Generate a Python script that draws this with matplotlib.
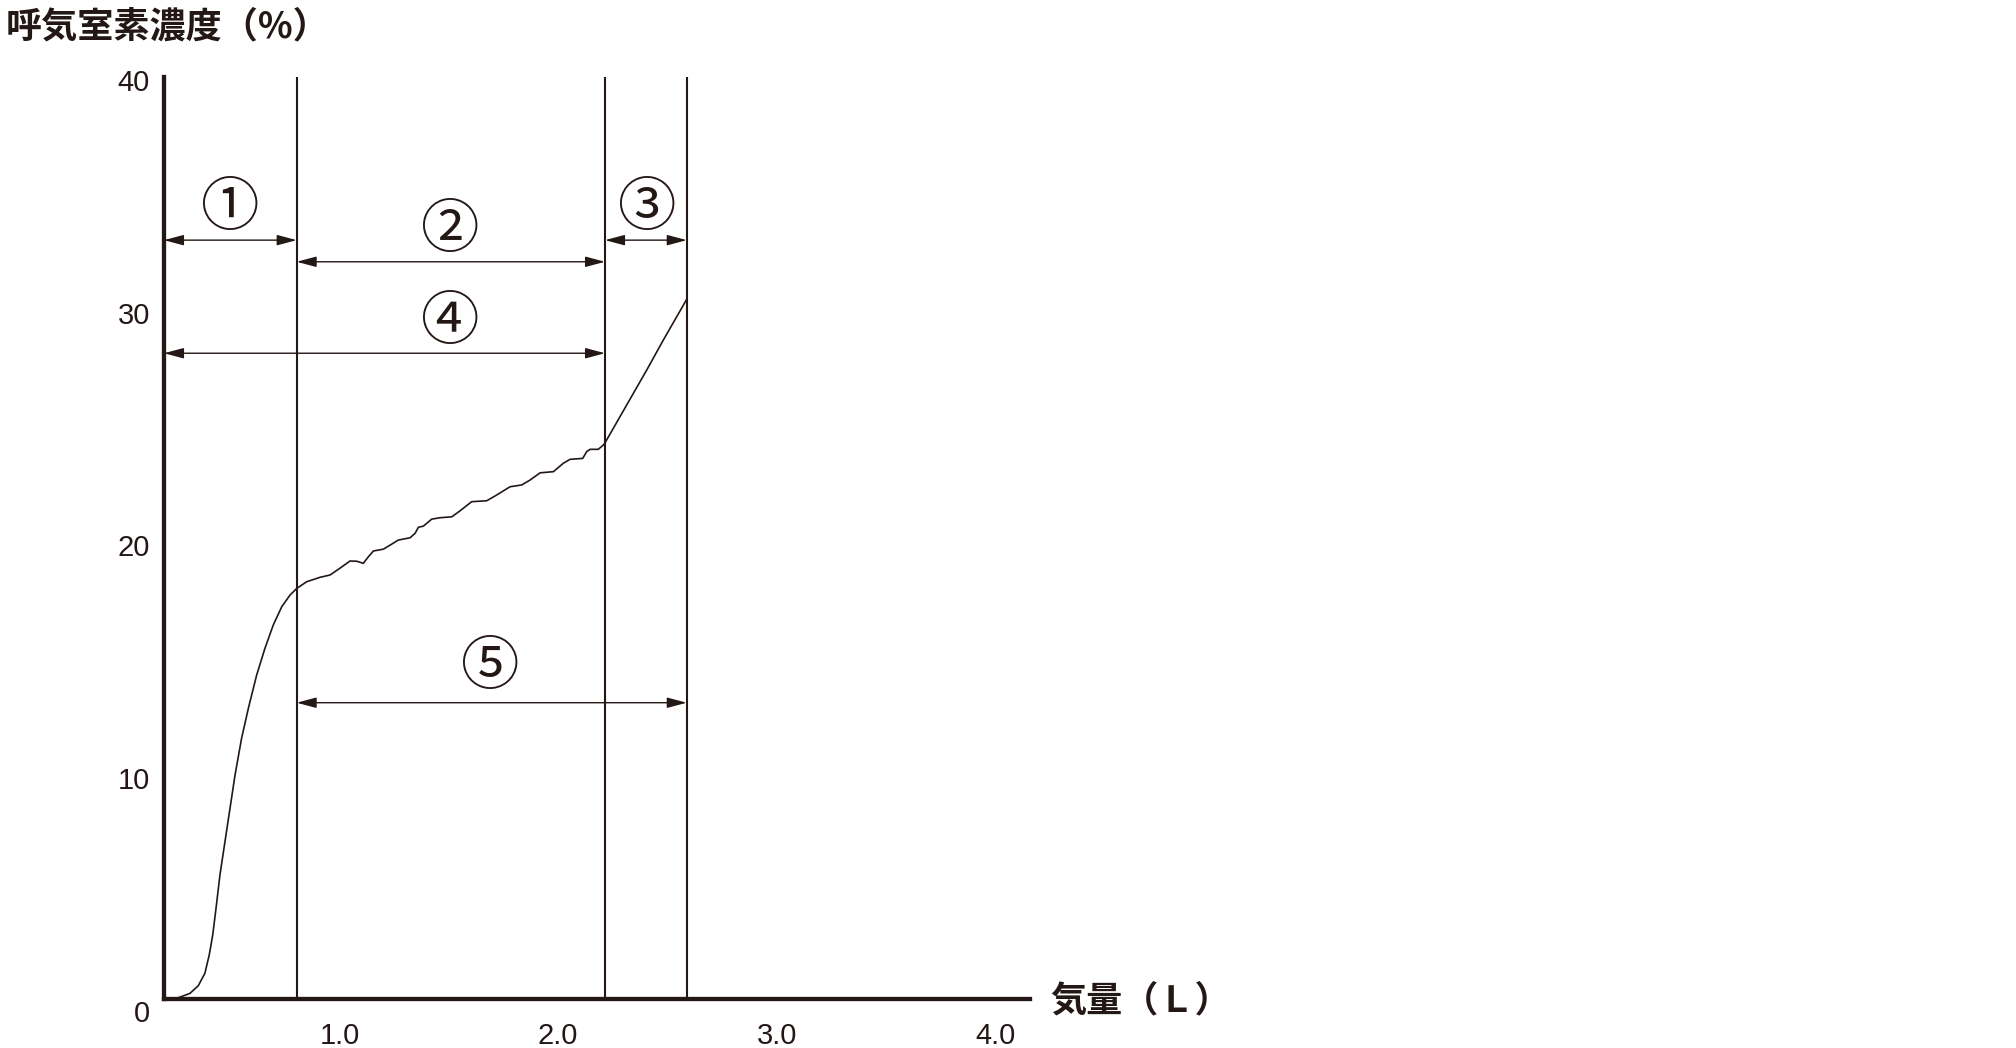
import matplotlib
matplotlib.use('Agg')
import matplotlib.pyplot as plt

plt.rcParams['font.family'] = ['Liberation Sans', 'DejaVu Sans']

# 図から読み取った値: 気量 (L) と 呼気窒素濃度 (%)
volume = [0.224, 0.262, 0.316, 0.354, 0.384, 0.404, 0.420, 0.435, 0.453, 0.476,
          0.499, 0.522, 0.552, 0.583, 0.621, 0.659, 0.697, 0.736, 0.774, 0.804,
          0.850, 0.911, 0.957, 1.002, 1.048, 1.079, 1.109, 1.132, 1.155, 1.201,
          1.231, 1.269, 1.323, 1.346, 1.361, 1.384, 1.422, 1.460, 1.514, 1.552,
          1.605, 1.674, 1.720, 1.780, 1.834, 1.872, 1.918, 1.979, 2.024, 2.055,
          2.113, 2.131, 2.147, 2.184, 2.207, 2.215, 2.406, 2.482, 2.589]
n2_conc = [0.49, 0.56, 0.75, 1.08, 1.61, 2.40, 3.26, 4.40, 5.84, 7.27,
           8.70, 10.13, 11.71, 13.00, 14.43, 15.58, 16.58, 17.37, 17.87, 18.15,
           18.44, 18.63, 18.73, 19.02, 19.33, 19.32, 19.23, 19.51, 19.76, 19.84,
           20.01, 20.23, 20.33, 20.52, 20.78, 20.83, 21.13, 21.19, 21.23, 21.49,
           21.88, 21.92, 22.17, 22.52, 22.60, 22.81, 23.12, 23.17, 23.53, 23.70,
           23.74, 24.03, 24.13, 24.13, 24.31, 24.41, 27.54, 28.83, 30.58]

# 区間の境界 (縦線)
boundaries = [0.804, 2.215, 2.589]

# 区間の矢印とラベル
arrow_left = [0.197, 0.804, 2.215, 0.197, 0.804]
arrow_right = [0.804, 2.215, 2.589, 2.215, 2.589]
arrow_y = [33.12, 32.19, 33.12, 28.26, 13.24]
label_x = [0.499, 1.506, 2.407, 1.506, 1.689]
label_y = [34.49, 33.55, 34.49, 29.59, 14.77]
label_text = ['①', '②', '③', '④', '⑤']

x_ticks = [1.0, 2.0, 3.0, 4.0]
y_ticks = [0, 10, 20, 30, 40]

ink = '#231815'
jp_font = ['Noto Sans CJK JP', 'DejaVu Sans']

x_min, x_max = 0.197, 4.160
y_top = 40.13
y_base = 0.49  # 横軸の位置

fig = plt.figure(figsize=(20.16, 10.48), dpi=100)
ax = fig.add_axes([0.08135, 0.0355, 0.4296, 0.8910])

ax.plot(volume, n2_conc, color=ink, lw=1.2, solid_joinstyle='round')
ax.vlines(boundaries, y_base, y_top, color=ink, lw=1.5)

for x0, x1, y in zip(arrow_left, arrow_right, arrow_y):
    ax.annotate('', xy=(x1, y), xytext=(x0, y),
                arrowprops=dict(arrowstyle='<|-|>,head_length=0.6,head_width=0.16',
                                mutation_scale=20, color=ink, lw=1.0,
                                shrinkA=0, shrinkB=0))

for x, y, t in zip(label_x, label_y, label_text):
    ax.text(x, y, t, ha='center', va='center', fontsize=42,
            family=jp_font, color=ink)

ax.set_xlim(x_min, x_max)
ax.set_ylim(0, y_top)
ax.set_xticks(x_ticks)
ax.set_xticklabels(['%.1f' % v for v in x_ticks])
ax.set_yticks(y_ticks)
ax.set_yticklabels([str(v) for v in y_ticks])
ax.tick_params(length=0, labelsize=21, colors=ink)
ax.tick_params(axis='x', pad=16)
ax.tick_params(axis='y', pad=10)

for side in ['top', 'right']:
    ax.spines[side].set_visible(False)
ax.spines['bottom'].set_position(('data', y_base))
ax.spines['left'].set_bounds(y_base, y_top)
for side in ['left', 'bottom']:
    ax.spines[side].set_linewidth(3.1)
    ax.spines[side].set_color(ink)
ax.patch.set_alpha(0)

fig.text(0.003, 1 - 26.7 / 1048, '呼気室素濃度（%）', ha='left', va='center',
         fontsize=26, weight='bold', family=jp_font, color=ink)
fig.text(1050 / 2016, 1 - 1001 / 1048, '気量（Ｌ）', ha='left', va='center',
         fontsize=26, weight='bold', family=jp_font, color=ink)

fig.savefig('out.png', dpi=100)
